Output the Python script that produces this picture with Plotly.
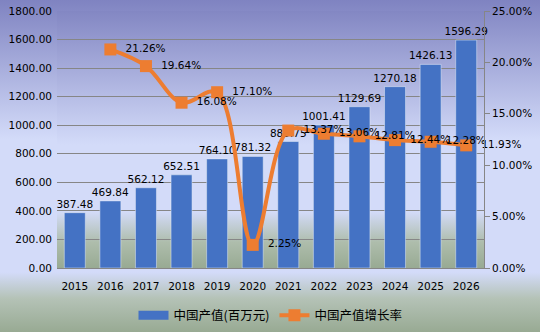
import base64
import plotly.graph_objects as go

# Chart data
years = ["2015", "2016", "2017", "2018", "2019", "2020",
         "2021", "2022", "2023", "2024", "2025", "2026"]
output_value = [387.48, 469.84, 562.12, 652.51, 764.10, 781.32,
                885.75, 1001.41, 1129.69, 1270.18, 1426.13, 1596.29]
growth_rate = [None, 21.26, 19.64, 16.08, 17.10, 2.25,
               13.37, 13.06, 12.81, 12.44, 12.28, 11.93]

bar_name = "中国产值(百万元)"
line_name = "中国产值增长率"

W, H = 540, 332
ML, MR, MT, MB = 57, 56, 11, 64
PW, PH = W - ML - MR, H - MT - MB

FONT = "DejaVu Sans"
CJK = "Noto Sans CJK SC"
BAR_COLOR = "#4472c4"
LINE_COLOR = "#ed7d31"
NBSP = "\u00a0"


def gradient_uri(stops):
    """Vertical linear gradient as an SVG data URI."""
    stop_tags = "".join(
        f'<stop offset="{o}" stop-color="{c}"/>' for o, c in stops
    )
    svg = (
        '<svg xmlns="http://www.w3.org/2000/svg" width="100" height="100" '
        'preserveAspectRatio="none" viewBox="0 0 100 100">'
        '<defs><linearGradient id="g" x1="0" y1="0" x2="0" y2="1">'
        f'{stop_tags}</linearGradient></defs>'
        '<rect x="0" y="0" width="100" height="100" fill="url(#g)"/></svg>'
    )
    return "data:image/svg+xml;base64," + base64.b64encode(svg.encode()).decode()


page_grad = gradient_uri([
    (0.0, "#7f83c1"), (0.42, "#d3dbf9"), (0.82, "#d3dbf9"),
    (0.90, "#b4c2b6"), (1.0, "#98aa93"),
])
plot_grad = gradient_uri([
    (0.0, "#8387c3"), (0.52, "#d3dbf9"), (0.78, "#d3dbf9"),
    (0.90, "#aebdac"), (1.0, "#98aa93"),
])

fig = go.Figure()

fig.add_trace(go.Bar(
    x=years, y=output_value, name=bar_name,
    marker=dict(color=BAR_COLOR),
    texttemplate="%{y:.2f}", textposition="outside",
    constraintext="none",
    textfont=dict(family=FONT, size=10.5, color="#000000"),
    cliponaxis=False, showlegend=False,
))

fig.add_trace(go.Scatter(
    x=years, y=growth_rate, name=line_name, yaxis="y2",
    mode="lines+markers+text",
    line=dict(color=LINE_COLOR, width=4, shape="spline", smoothing=1),
    marker=dict(symbol="square", size=12, color=LINE_COLOR),
    text=[None if v is None else f"{NBSP * 2}{v:.2f}%" for v in growth_rate],
    textposition="middle right",
    textfont=dict(family=FONT, size=10.5, color="#000000"),
    connectgaps=False, cliponaxis=False, showlegend=False,
))

# Legend entries: a wide flat swatch for the bars, line+square for the rate
fig.add_trace(go.Scatter(
    x=[None], y=[None], name=bar_name, mode="lines",
    line=dict(color=BAR_COLOR, width=9),
))
fig.add_trace(go.Scatter(
    x=[None], y=[None], name=line_name, mode="lines+markers", yaxis="y2",
    line=dict(color=LINE_COLOR, width=4),
    marker=dict(symbol="square", size=12, color=LINE_COLOR),
))

fig.update_layout(
    width=W, height=H,
    margin=dict(l=ML, r=MR, t=MT, b=MB, autoexpand=False),
    paper_bgcolor="#d3dbf9",
    plot_bgcolor="rgba(0,0,0,0)",
    font=dict(family=FONT, size=10.5, color="#000000"),
    bargap=0.41,
    showlegend=True,
    legend=dict(
        orientation="h", x=0.5, xanchor="center",
        y=-0.185, yanchor="middle",
        font=dict(family=CJK, size=12.5, color="#000000"),
        bgcolor="rgba(0,0,0,0)",
        itemwidth=30, tracegroupgap=0,
    ),
    xaxis=dict(
        type="category", range=[-0.5, len(years) - 0.5],
        showgrid=False,
        showline=True, linecolor="#868686", linewidth=1,
        ticks="", ticklabelstandoff=8,
        tickfont=dict(family=FONT, size=10.5, color="#000000"),
    ),
    yaxis=dict(
        range=[0, 1800], dtick=200, tickformat=".2f",
        showgrid=True, gridcolor="#868686", gridwidth=1,
        zeroline=False, showline=False, ticks="",
        ticklabelstandoff=4,
        tickfont=dict(family=FONT, size=10.5, color="#000000"),
    ),
    yaxis2=dict(
        overlaying="y", side="right",
        range=[0, 25], dtick=5, tickformat=".2f", ticksuffix="%",
        showgrid=False, zeroline=False,
        showline=True, linecolor="#868686", linewidth=1,
        ticks="outside", ticklen=5, tickcolor="#868686",
        tickfont=dict(family=FONT, size=10.5, color="#000000"),
    ),
    images=[
        dict(source=page_grad, xref="paper", yref="paper",
             x=-ML / PW, y=1 + MT / PH, sizex=W / PW, sizey=H / PH,
             xanchor="left", yanchor="top", sizing="stretch",
             layer="below"),
        dict(source=plot_grad, xref="paper", yref="paper",
             x=0, y=1, sizex=1, sizey=1,
             xanchor="left", yanchor="top", sizing="stretch",
             layer="below"),
    ],
)

fig.write_html("out.html")
